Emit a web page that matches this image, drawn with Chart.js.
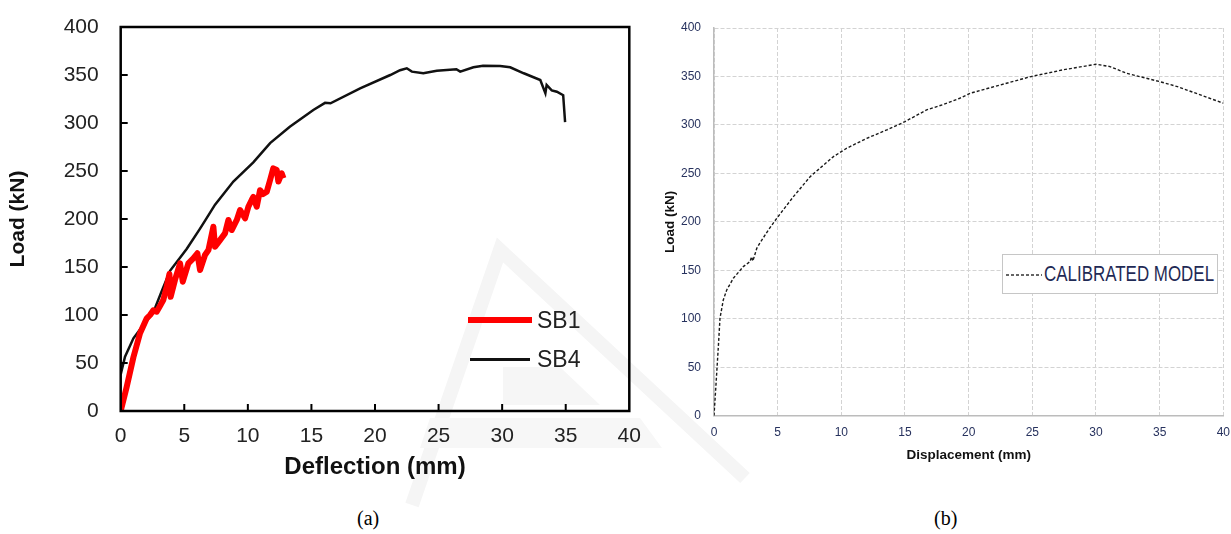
<!DOCTYPE html>
<html>
<head>
<meta charset="utf-8">
<script src="https://cdn.jsdelivr.net/npm/chart.js@4.4.1/dist/chart.umd.min.js"></script>
<style>
  body { margin: 0; background: #fff; }
  #page { position: relative; width: 1231px; height: 534px; overflow: hidden; background: #fff; }
  #mark { position: absolute; left: 0; top: 0; }
  canvas { position: absolute; top: 0; }
  #chartA { left: 0; }
  #chartB { left: 660px; }
  .key-line { position: absolute; }
  .key-text { position: absolute; font: 23px "Liberation Sans", Arial, sans-serif; color: #222; line-height: 24px; }
  #boxB { position: absolute; left: 1002px; top: 254px; width: 216px; height: 40px; box-sizing: border-box;
          border: 1px solid #c6c6c6; background: #fff; }
  #boxB svg { position: absolute; left: 3px; top: 18px; }
  #boxB span { position: absolute; left: 41px; top: 7px; font: 22px "Liberation Sans", Arial, sans-serif; color: #1f2a55;
               transform: scaleX(0.77); transform-origin: left center; white-space: nowrap; line-height: 24px; }
  .cap { position: absolute; top: 507px; font: 20px "Liberation Serif", "Times New Roman", serif; color: #000; }
</style>
</head>
<body>
<div id="page">
  <!-- faint background watermark -->
  <svg id="mark" width="1231" height="534">
    <polyline points="412,505 500,250 745,478" fill="none" stroke="#f5f5f5" stroke-width="14"/>
    <polygon points="503,367 560,367 600,405 503,405" fill="#f6f6f6"/>
    <polygon points="430,418 640,418 662,448 420,448" fill="#f7f7f7"/>
  </svg>

  <canvas id="chartA" width="650" height="490"></canvas>
  <canvas id="chartB" width="571" height="480"></canvas>

  <div class="key-line" style="left:468px;top:317px;width:64px;height:6px;background:#ff0000"></div>
  <div class="key-text" style="left:537px;top:308px">SB1</div>
  <div class="key-line" style="left:470px;top:358px;width:60px;height:2.5px;background:#111"></div>
  <div class="key-text" style="left:537px;top:347px">SB4</div>

  <div id="boxB">
    <svg width="36" height="4"><line x1="0" y1="2" x2="36" y2="2" stroke="#333" stroke-width="1.3" stroke-dasharray="3 2"/></svg>
    <span>CALIBRATED MODEL</span>
  </div>

  <div class="cap" style="left:357px">(a)</div>
  <div class="cap" style="left:934px">(b)</div>
</div>

<script>
// (a) test curves, deflection in mm / load in kN
const sb1Defl = [0, 0.47, 1.0, 1.52, 2.05, 2.31, 2.57, 2.83, 3.09, 3.35, 3.62, 3.83, 3.93, 4.27, 4.67, 4.88,
  5.32, 5.71, 6.03, 6.24, 6.63, 6.9, 7.29, 7.42, 7.81, 8.2, 8.47, 8.73, 9.13, 9.39, 9.78, 10.04, 10.3, 10.43,
  10.7, 10.96, 11.2, 11.49, 11.75, 12.0, 12.27, 12.4, 12.66, 12.8];
const sb1Load = [0, 25, 56, 81, 96.5, 100, 105, 103.5, 109.4, 115.6, 129.5, 142.7, 119, 136.5, 153.8, 134.7,
  153.8, 159, 164.3, 146.9, 162.5, 167.7, 192, 171, 178, 185, 199, 188.5, 199, 209.4, 200.7, 212.8, 219.8, 223,
  212.8, 230, 226, 228.5, 240.6, 252.8, 251, 239, 247.6, 242.4];

const sb4Defl = [0, 0.34, 1.0, 1.78, 2.57, 3.2, 3.88, 4.68, 5.2, 6.24, 6.76, 7.42, 8.86, 10.43, 11.75, 13.3,
  15.15, 16.07, 16.5, 18.83, 21.2, 21.97, 22.5, 22.9, 23.8, 24.86, 26.4, 26.7, 27.74, 28.5, 29.84, 30.63,
  31.7, 33.0, 33.4, 33.5, 33.9, 34.3, 34.8, 34.95];
const sb4Load = [38, 56.6, 75.7, 89.6, 103, 124, 146, 160, 169, 190, 201, 215, 239, 259, 279, 296,
  313.5, 321, 320.5, 336, 350, 355, 357, 353.5, 351.8, 354.5, 356, 353.5, 358, 359.7, 359.4, 358,
  351.8, 344.8, 331, 339.6, 334, 332.6, 329, 301];

// (b) calibrated model, displacement in mm / load in kN
const modelDisp = [0, 0.13, 0.34, 0.47, 0.73, 1.0, 1.52, 2.3, 2.83, 2.95, 3.05, 3.36, 3.6, 4.27, 4.93, 6.24,
  7.55, 9.38, 10.43, 12.0, 13.57, 15.0, 16.7, 18.0, 19.3, 20.13, 22.5, 24.9, 27.4, 30.0, 31.1, 32.4, 35.0,
  36.4, 38.2, 40.0];
const modelLoad = [0, 26.6, 71, 100.5, 119.4, 129.7, 141.8, 153.8, 159, 164, 159.5, 172.7, 178, 191.6, 203.7, 226,
  246.6, 267.3, 276, 286.2, 294.8, 303.4, 315.5, 321, 327.5, 332.7, 341.3, 349.9, 356.8, 362.6, 360.2, 353.3, 344.7,
  339.5, 331, 322.4];

const xTicks = { min: 0, max: 40, step: 5 };
const yTicks = { min: 0, max: 400, step: 50 };

const pts = (xs, ys) => xs.map((x, i) => ({ x: x, y: ys[i] }));

// fixed axis box sizes; the layout padding alone decides where the plot sits
const fixX = h => s => { s.height = h; s.paddingLeft = 0; s.paddingRight = 0; };
const fixY = w => s => { s.width = w; s.paddingTop = 0; s.paddingBottom = 0; };

// closed black frame with short inward tick marks
const boxFrame = {
  id: 'boxFrame',
  afterDatasetsDraw(chart) {
    const { ctx, chartArea: a, scales } = chart;
    ctx.save();
    ctx.strokeStyle = '#000';
    ctx.lineWidth = 2;
    ctx.beginPath();
    scales.x.ticks.forEach(t => {
      if (t.value <= xTicks.min || t.value >= xTicks.max) return;
      const px = scales.x.getPixelForValue(t.value);
      ctx.moveTo(px, a.bottom); ctx.lineTo(px, a.bottom - 7);
    });
    scales.y.ticks.forEach(t => {
      if (t.value <= yTicks.min || t.value >= yTicks.max) return;
      const py = scales.y.getPixelForValue(t.value);
      ctx.moveTo(a.left, py); ctx.lineTo(a.left + 7, py);
    });
    ctx.stroke();
    ctx.lineWidth = 2.5;
    ctx.strokeRect(a.left, a.top, a.right - a.left, a.bottom - a.top);
    ctx.restore();
  }
};

const fontA = 'Liberation Sans, Arial, sans-serif';

new Chart(document.getElementById('chartA'), {
  type: 'line',
  data: {
    datasets: [
      { label: 'SB1', data: pts(sb1Defl, sb1Load), borderColor: '#ff0000', borderWidth: 6,
        pointRadius: 0, tension: 0, borderJoinStyle: 'round' },
      { label: 'SB4', data: pts(sb4Defl, sb4Load), borderColor: '#111', borderWidth: 2.5,
        pointRadius: 0, tension: 0 }
    ]
  },
  options: {
    responsive: false,
    animation: false,
    layout: { padding: { top: 27, right: 20.7, left: 0, bottom: 0 } },
    plugins: { legend: { display: false }, tooltip: { enabled: false } },
    scales: {
      x: {
        type: 'linear', min: xTicks.min, max: xTicks.max,
        ticks: { stepSize: xTicks.step, padding: 13, color: '#222', font: { family: fontA, size: 21 } },
        grid: { display: false, drawTicks: false },
        border: { display: false },
        title: { display: true, text: 'Deflection (mm)', color: '#111',
                 font: { family: fontA, size: 24, weight: 'bold' }, padding: { top: 0, bottom: 8.6 } },
        afterFit: fixX(79)
      },
      y: {
        type: 'linear', min: yTicks.min, max: yTicks.max,
        ticks: { stepSize: yTicks.step, padding: 22, color: '#222', font: { family: fontA, size: 21 } },
        grid: { display: false, drawTicks: false },
        border: { display: false },
        title: { display: true, text: 'Load (kN)', color: '#111',
                 font: { family: fontA, size: 21, weight: 'bold' }, padding: { top: 5.4, bottom: 0 } },
        afterFit: fixY(120.7)
      }
    }
  },
  plugins: [boxFrame]
});

const gridB = { color: '#d3d3d3', lineWidth: 1, drawTicks: false };
const borderB = { display: true, color: '#bcbcbc', width: 1.5, dash: [4, 2] };

new Chart(document.getElementById('chartB'), {
  type: 'line',
  data: {
    datasets: [
      { label: 'CALIBRATED MODEL', data: pts(modelDisp, modelLoad), borderColor: '#1a1a1a', borderWidth: 1.4,
        borderDash: [3, 2], pointRadius: 0, tension: 0 }
    ]
  },
  options: {
    responsive: false,
    animation: false,
    layout: { padding: { top: 28, right: 7.7, left: 0, bottom: 0 } },
    plugins: { legend: { display: false }, tooltip: { enabled: false } },
    scales: {
      x: {
        type: 'linear', min: xTicks.min, max: xTicks.max,
        ticks: { stepSize: xTicks.step, padding: 10, color: '#27325e', font: { family: fontA, size: 12 } },
        grid: gridB,
        border: borderB,
        title: { display: true, text: 'Displacement (mm)', color: '#111',
                 font: { family: fontA, size: 13.5, weight: 'bold' }, padding: { top: 0, bottom: 16.9 } },
        afterFit: fixX(64.3)
      },
      y: {
        type: 'linear', min: yTicks.min, max: yTicks.max,
        ticks: { stepSize: yTicks.step, padding: 13, color: '#27325e', font: { family: fontA, size: 12 } },
        grid: gridB,
        border: borderB,
        title: { display: true, text: 'Load (kN)', color: '#111',
                 font: { family: fontA, size: 13.5, weight: 'bold' }, padding: { top: 1.9, bottom: 0 } },
        afterFit: fixY(54)
      }
    }
  }
});
</script>
</body>
</html>
